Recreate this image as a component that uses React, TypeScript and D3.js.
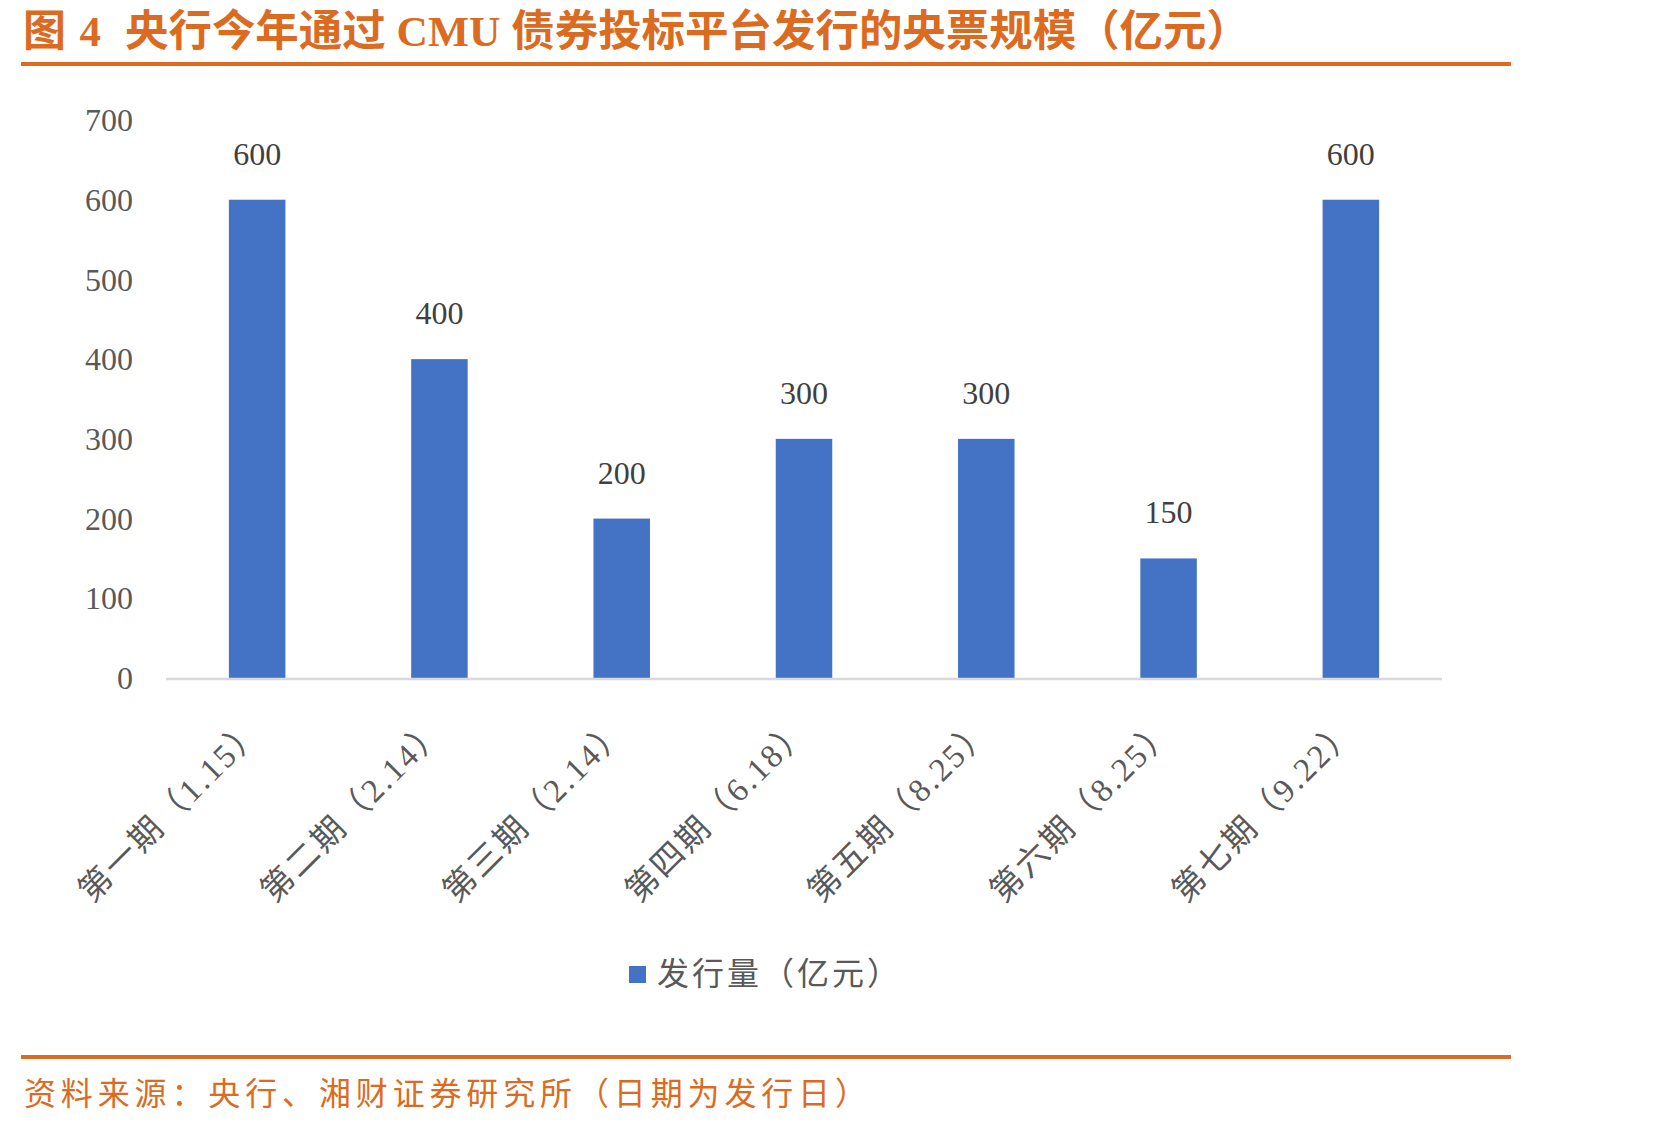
import React from "react";
import * as d3 from "d3";

const categories = ["第一期（1.15）", "第二期（2.14）", "第三期（2.14）", "第四期（6.18）", "第五期（8.25）", "第六期（8.25）", "第七期（9.22）"];
const values = [600, 400, 200, 300, 300, 150, 600];
const yTicks = [0, 100, 200, 300, 400, 500, 600, 700];
const seriesName = "发行量（亿元）";
const titleNo = "图 4";
const title = "央行今年通过 CMU 债券投标平台发行的央票规模（亿元）";
const source = "资料来源：央行、湘财证券研究所（日期为发行日）";

const W = 1677, H = 1123;
const ORANGE = "#DC6B22";
const BLUE = "#4472C4";
const FONT = "'Liberation Serif', 'Noto Sans CJK SC', serif";

export default function App() {
  const x = d3.scaleBand<string>().domain(categories).range([166, 1442]).paddingInner(0.69).paddingOuter(0.345);
  const y = d3.scaleLinear().domain([0, 700]).range([678, 120]);
  return (
    <div style={{ position: "absolute", left: 0, top: 0 }}>
      <svg width={W} height={H} style={{ display: "block", background: "#fff" }}>
        <text x={23} y={46} fontFamily={FONT} fontWeight="bold" fontSize={43} fill={ORANGE} textLength={78} lengthAdjust="spacing">{titleNo}</text>
        <text x={125} y={46} fontFamily={FONT} fontWeight="bold" fontSize={43} fill={ORANGE} textLength={1125} lengthAdjust="spacingAndGlyphs">{title}</text>
        <rect x={21} y={62} width={1490} height={4} fill={ORANGE} />
        {yTicks.map(t => (
          <text key={t} x={133} y={y(t)} dy="0.35em" textAnchor="end" fontFamily={FONT} fontSize={32} fill="#595959">{t}</text>
        ))}
        {categories.map((c, i) => {
          const bx = x(c)!;
          return (
            <g key={c}>
              <rect x={bx} y={y(values[i])} width={x.bandwidth()} height={y(0) - y(values[i])} fill={BLUE} />
              <text x={bx + x.bandwidth() / 2} y={y(values[i]) - 35} textAnchor="middle" fontFamily={FONT} fontSize={32} fill="#404040">{values[i]}</text>
            </g>
          );
        })}
        <line x1={166} x2={1442} y1={y(0) + 1} y2={y(0) + 1} stroke="#D9D9D9" strokeWidth={2.5} />
        {categories.map(c => {
          const cx = x(c)! + x.bandwidth() / 2;
          const ax = cx + 6, ay = y(0) + 55;
          return (
            <text key={c} x={ax} y={ay} transform={`rotate(-45 ${ax} ${ay})`} textAnchor="end" fontFamily={FONT} fontSize={33} fill="#595959" textLength={242} lengthAdjust="spacing">{c}</text>
          );
        })}
        <rect x={629} y={966} width={17} height={17} fill={BLUE} />
        <text x={657} y={985} fontFamily={FONT} fontSize={32} fill="#595959" textLength={242} lengthAdjust="spacing">{seriesName}</text>
        <rect x={21} y={1055} width={1490} height={4} fill={ORANGE} />
        <text x={24} y={1105} fontFamily={FONT} fontSize={32} fill={ORANGE} textLength={843} lengthAdjust="spacing">{source}</text>
      </svg>
    </div>
  );
}
